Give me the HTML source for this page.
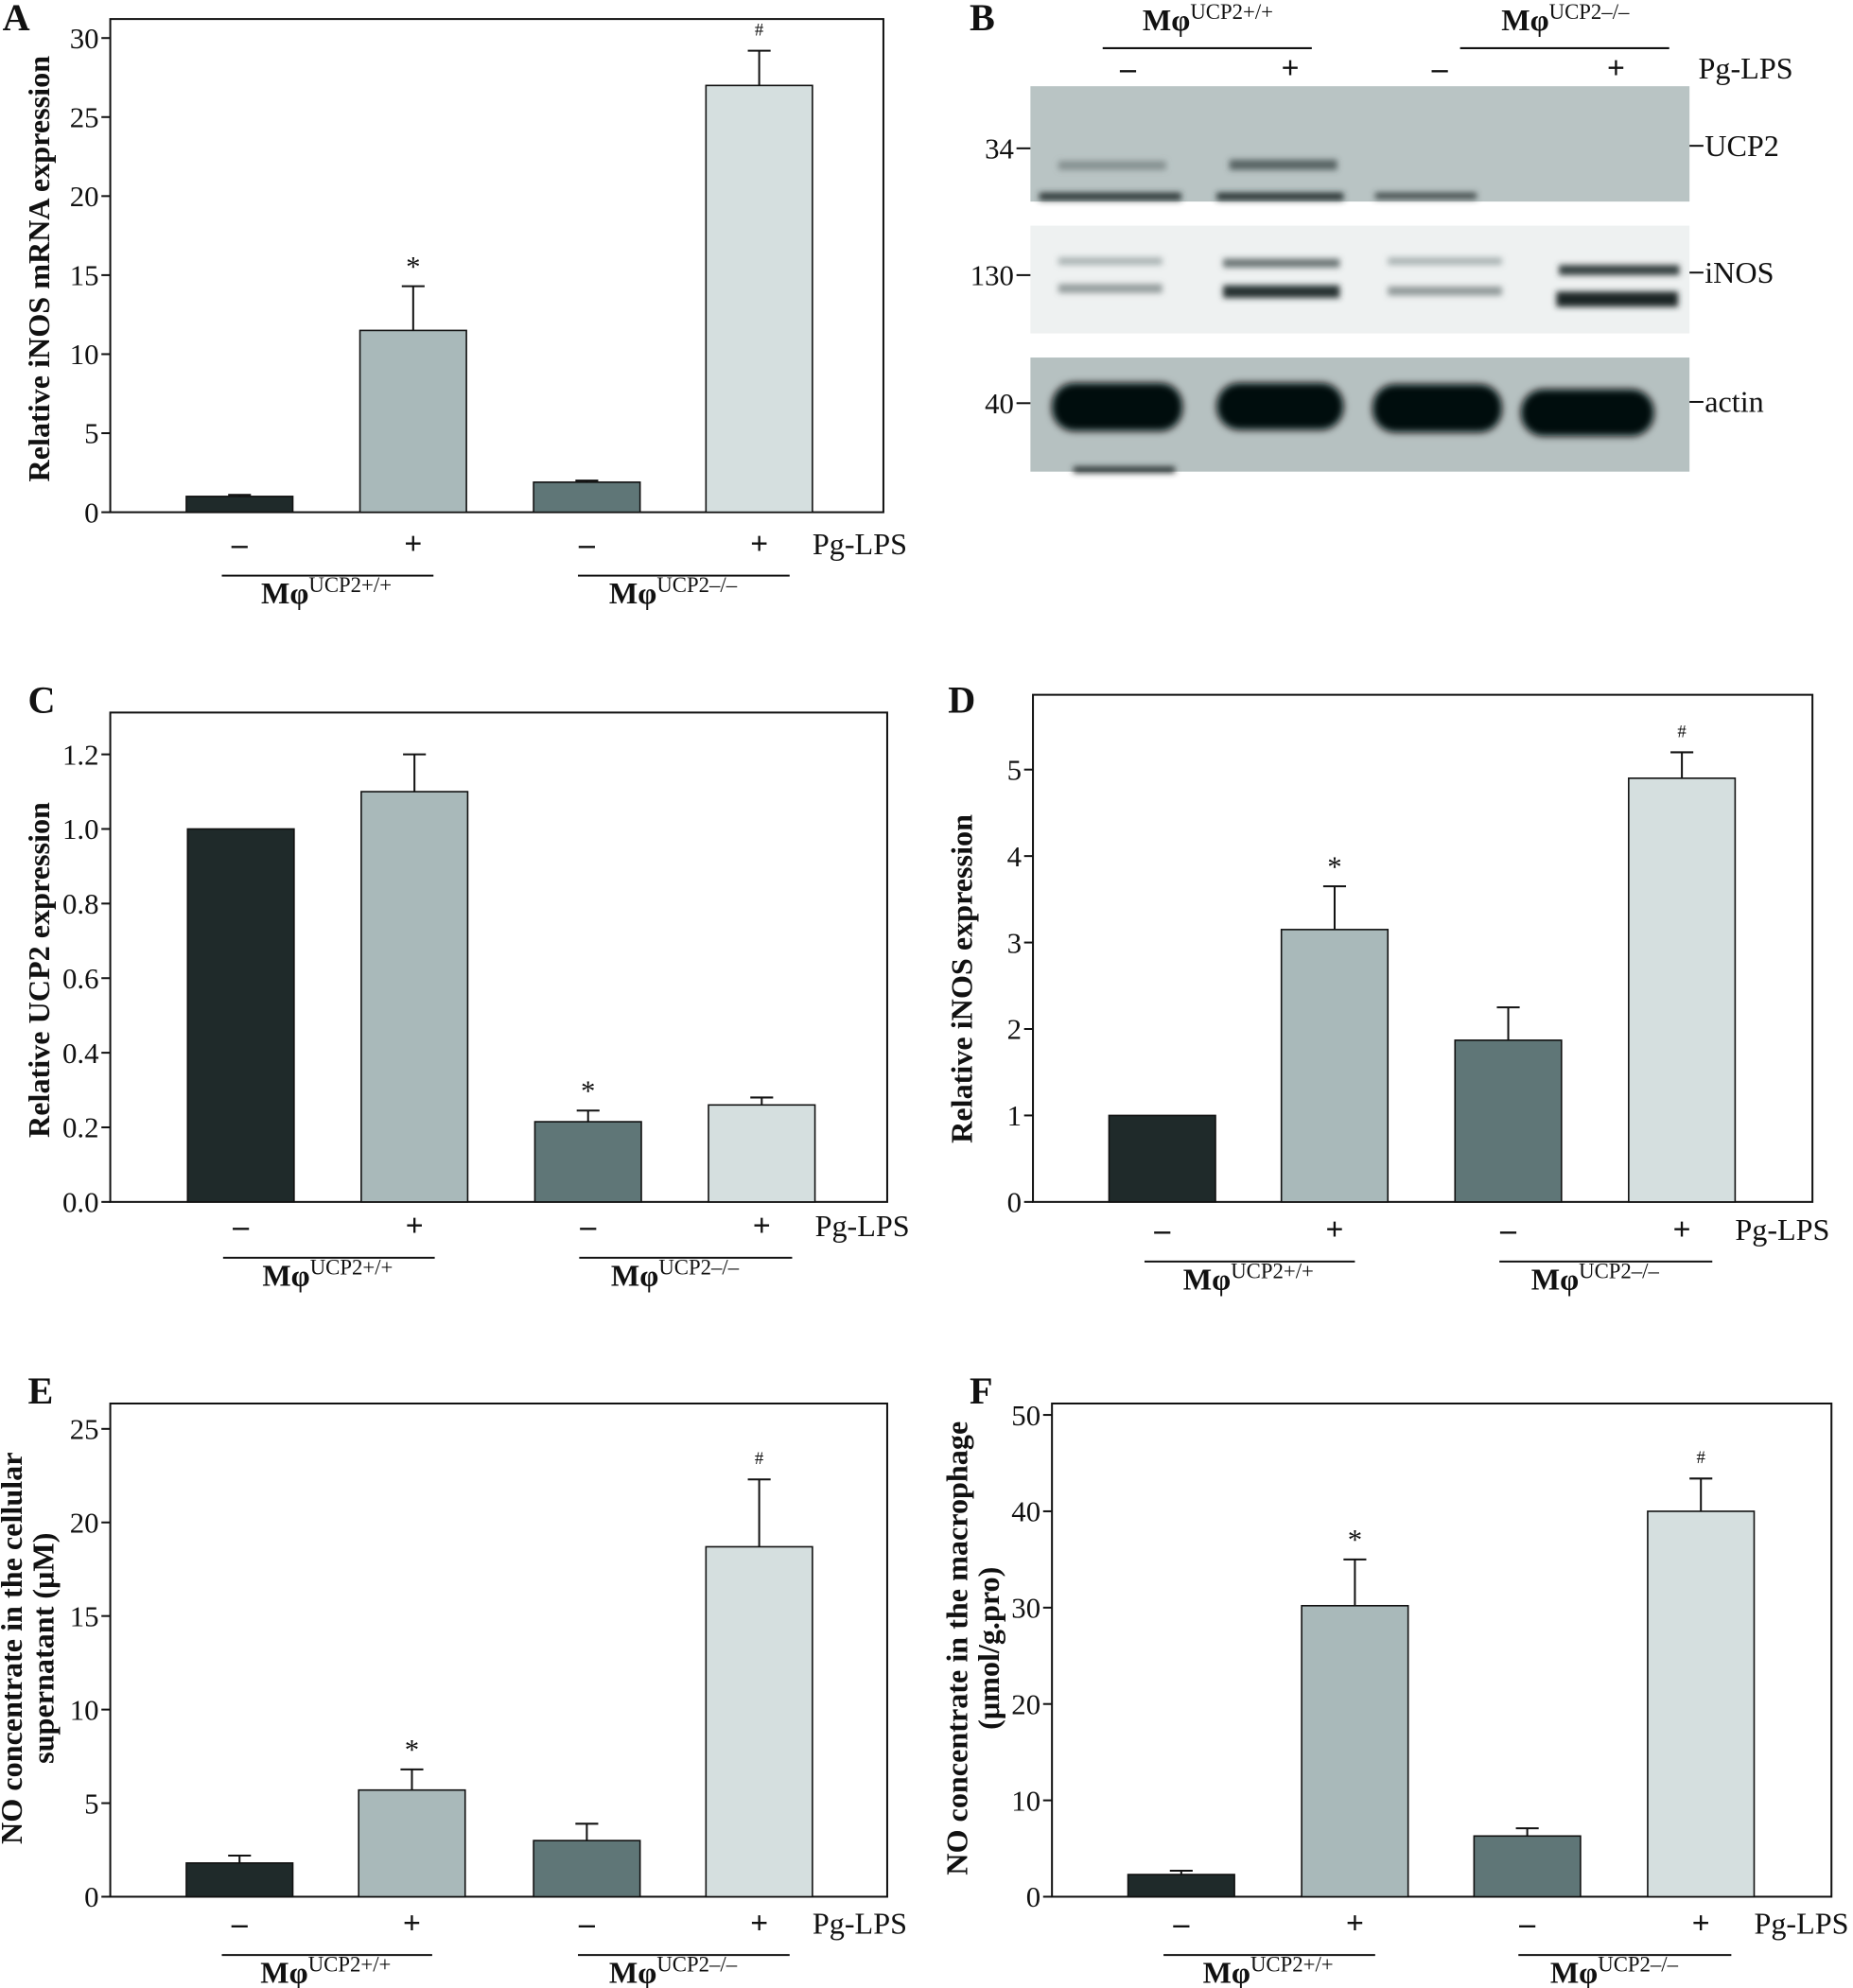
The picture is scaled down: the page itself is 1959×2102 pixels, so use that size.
<!DOCTYPE html>
<html><head><meta charset="utf-8">
<style>
html,body{margin:0;padding:0;background:#fff;}
svg{display:block;}
text{font-family:"Liberation Serif",serif;fill:#111;}
</style></head>
<body>
<svg id="s" width="1959" height="2102" viewBox="0 0 1462 1568" preserveAspectRatio="none" xmlns="http://www.w3.org/2000/svg">
<defs>
<filter id="bl" x="-20%" y="-50%" width="140%" height="200%"><feGaussianBlur stdDeviation="3"/></filter>
<filter id="bl2" x="-20%" y="-80%" width="140%" height="260%"><feGaussianBlur stdDeviation="2.4"/></filter>
</defs>
<g>
<rect x="813" y="68" width="520" height="91" fill="#b9c4c4"/>
<rect x="813" y="178" width="520" height="85" fill="#eef1f1"/>
<rect x="813" y="282" width="520" height="90" fill="#b6c1c1"/>
<g filter="url(#bl2)">
<rect x="820" y="152" width="112" height="6" fill="#2c3535"/>
<rect x="960" y="152" width="100" height="6" fill="#273030"/>
<rect x="1085" y="152" width="80" height="5" fill="#3c4646"/>
<rect x="835" y="127" width="85" height="7" fill="#6f7b7b" opacity="0.7"/>
<rect x="970" y="126" width="85" height="8" fill="#3f4a4a" opacity="0.8"/>
<rect x="835" y="203" width="82" height="6" fill="#7d8a8a" opacity="0.6"/>
<rect x="835" y="224" width="82" height="7" fill="#6c7878" opacity="0.7"/>
<rect x="965" y="204" width="92" height="7" fill="#4a5656" opacity="0.8"/>
<rect x="965" y="225" width="92" height="10" fill="#283131"/>
<rect x="1095" y="203" width="90" height="6" fill="#7d8a8a" opacity="0.6"/>
<rect x="1095" y="226" width="90" height="7" fill="#667272" opacity="0.7"/>
<rect x="1230" y="209" width="95" height="8" fill="#354040"/>
<rect x="1228" y="230" width="96" height="12" fill="#1e2727"/>
<rect x="847" y="368" width="80" height="5" fill="#2a3333"/>
</g>
<g filter="url(#bl)">
<rect x="830" y="302" width="103" height="38" rx="18" fill="#050909"/>
<rect x="960" y="302" width="100" height="37" rx="18" fill="#050909"/>
<rect x="1083" y="303" width="102" height="38" rx="18" fill="#050909"/>
<rect x="1200" y="307" width="105" height="37" rx="18" fill="#050909"/>
</g>
</g>
</svg>
<script>
var s=document.getElementById('s');var NS='http://www.w3.org/2000/svg';
function el(t,a,txt){var e=document.createElementNS(NS,t);for(var k in a)e.setAttribute(k,a[k]);if(txt!=null)e.textContent=txt;s.appendChild(e);return e;}
function line(x1,y1,x2,y2,w){el('line',{x1:x1,y1:y1,x2:x2,y2:y2,stroke:'#111','stroke-width':w||1.5});}
function txt(x,y,t,o){o=o||{};var a={x:x,y:y,'font-size':o.fs||20,'text-anchor':o.a||'start'};if(o.b)a['font-weight']='bold';if(o.tr)a.transform=o.tr;return el('text',a,t);}
function mphi(x,y,sup){var t=txt(x,y,'',{fs:24,a:'middle',b:1});var s1=document.createElementNS(NS,'tspan');s1.textContent='M\u03c6';t.appendChild(s1);var s2=document.createElementNS(NS,'tspan');s2.setAttribute('font-size','17');s2.setAttribute('font-weight','normal');s2.setAttribute('dy','-9');s2.textContent=sup;t.appendChild(s2);}
var cols=['#1f2a2a','#a9b9ba','#5f7677','#d5dfdf'];
function panel(p){
 el('rect',{x:p.x0,y:p.y0,width:p.x1-p.x0,height:p.y1-p.y0,fill:'none',stroke:'#111','stroke-width':1.5});
 var sc=(p.y1-p.top)/p.max;
 p.ticks.forEach(function(v){var y=p.y1-v*sc;line(p.x0-7,y,p.x0,y);txt(p.x0-9,y+8,p.fmt?v.toFixed(1):String(v),{fs:23,a:'end'});});
 p.bars.forEach(function(b,i){
  var y=p.y1-b[1]*sc;
  if(b[2]!=null){var ye=p.y1-b[2]*sc;var cx=b[0]+42;line(cx,y,cx,ye);line(cx-9,ye,cx+9,ye);}
  el('rect',{x:b[0],y:y,width:84,height:p.y1-y,fill:cols[i],stroke:'#111','stroke-width':1.2});
  if(b[3]){var ye2=p.y1-(b[2]!=null?b[2]:b[1])*sc;txt(b[0]+42,ye2-(b[3]=='*'?8:12),b[3],{fs:b[3]=='*'?23:14,a:'middle'});}
 });
 var ly=p.y1+p.lo;
 p.bars.forEach(function(b,i){txt(b[0]+42,ly,i%2?'+':'\u2013',{fs:25,a:'middle',b:1});});
 txt(p.bars[3][0]+84,ly,'Pg-LPS',{fs:24});
 var ul=ly+17;
 line(p.bars[0][0]+28,ul,p.bars[1][0]+58,ul);line(p.bars[2][0]+35,ul,p.bars[3][0]+66,ul);
 mphi((p.bars[0][0]+p.bars[1][0]+84)/2,ul+22,'UCP2+/+');
 mphi((p.bars[2][0]+p.bars[3][0]+84)/2,ul+22,'UCP2\u2013/\u2013');
 txt(p.lx,p.ly,p.lab,{fs:24,a:'middle',b:1,tr:'rotate(-90 '+p.lx+' '+p.ly+')'});
 if(p.lab2)txt(p.lx+25,p.ly,p.lab2,{fs:24,a:'middle',b:1,tr:'rotate(-90 '+(p.lx+25)+' '+p.ly+')'});
 txt(p.Lx,p.Ly,p.L,{fs:30,b:1});
}
panel({x0:87,x1:697,y0:15,y1:404,top:30,max:30,ticks:[0,5,10,15,20,25,30],lo:33,
 bars:[[147,1.0,1.1],[284,11.5,14.3,'*'],[421,1.9,2.0],[557,27,29.2,'#']],lx:39,ly:212,lab:'Relative iNOS mRNA expression',L:'A',Lx:2,Ly:24});
panel({x0:87,x1:700,y0:562,y1:948,top:595,max:1.2,fmt:1,ticks:[0,0.2,0.4,0.6,0.8,1.0,1.2],lo:27,
 bars:[[148,1.0,null],[285,1.1,1.2],[422,0.215,0.245,'*'],[559,0.26,0.28]],lx:39,ly:765,lab:'Relative UCP2 expression',L:'C',Lx:22,Ly:562});
panel({x0:815,x1:1430,y0:548,y1:948,top:607,max:5,ticks:[0,1,2,3,4,5],lo:30,
 bars:[[875,1.0,null],[1011,3.15,3.65,'*'],[1148,1.87,2.25],[1285,4.9,5.2,'#']],lx:767,ly:772,lab:'Relative iNOS expression',L:'D',Lx:748,Ly:562});
panel({x0:87,x1:700,y0:1107,y1:1496,top:1127,max:25,ticks:[0,5,10,15,20,25],lo:29,
 bars:[[147,1.8,2.2],[283,5.7,6.8,'*'],[421,3.0,3.9],[557,18.7,22.3,'#']],lx:17,ly:1300,lab:'NO concentrate in the cellular',lab2:'supernatant (\u03bcM)',L:'E',Lx:22,Ly:1107});
panel({x0:830,x1:1445,y0:1107,y1:1496,top:1116,max:50,ticks:[0,10,20,30,40,50],lo:29,
 bars:[[890,2.3,2.7],[1027,30.2,35,'*'],[1163,6.3,7.1],[1300,40,43.4,'#']],lx:763,ly:1300,lab:'NO concentrate in the macrophage',lab2:'(\u03bcmol/g.pro)',L:'F',Lx:765,Ly:1107});
txt(765,24,'B',{fs:30,b:1});
mphi(953,24,'UCP2+/+');mphi(1235,24,'UCP2\u2013/\u2013');
line(870,38,1035,38);line(1152,38,1317,38);
[890,1018,1136,1275].forEach(function(x,i){txt(x,62,i%2?'+':'\u2013',{fs:25,a:'middle',b:1});});
txt(1340,62,'Pg-LPS',{fs:24});
[[34,117],[130,217],[40,318]].forEach(function(m){txt(800,m[1]+8,String(m[0]),{fs:23,a:'end'});line(802,m[1],813,m[1]);});
[['UCP2',115],['iNOS',215],['actin',317]].forEach(function(m){line(1333,m[1],1344,m[1]);txt(1345,m[1]+8,m[0],{fs:24});});
</script>
</body></html>
